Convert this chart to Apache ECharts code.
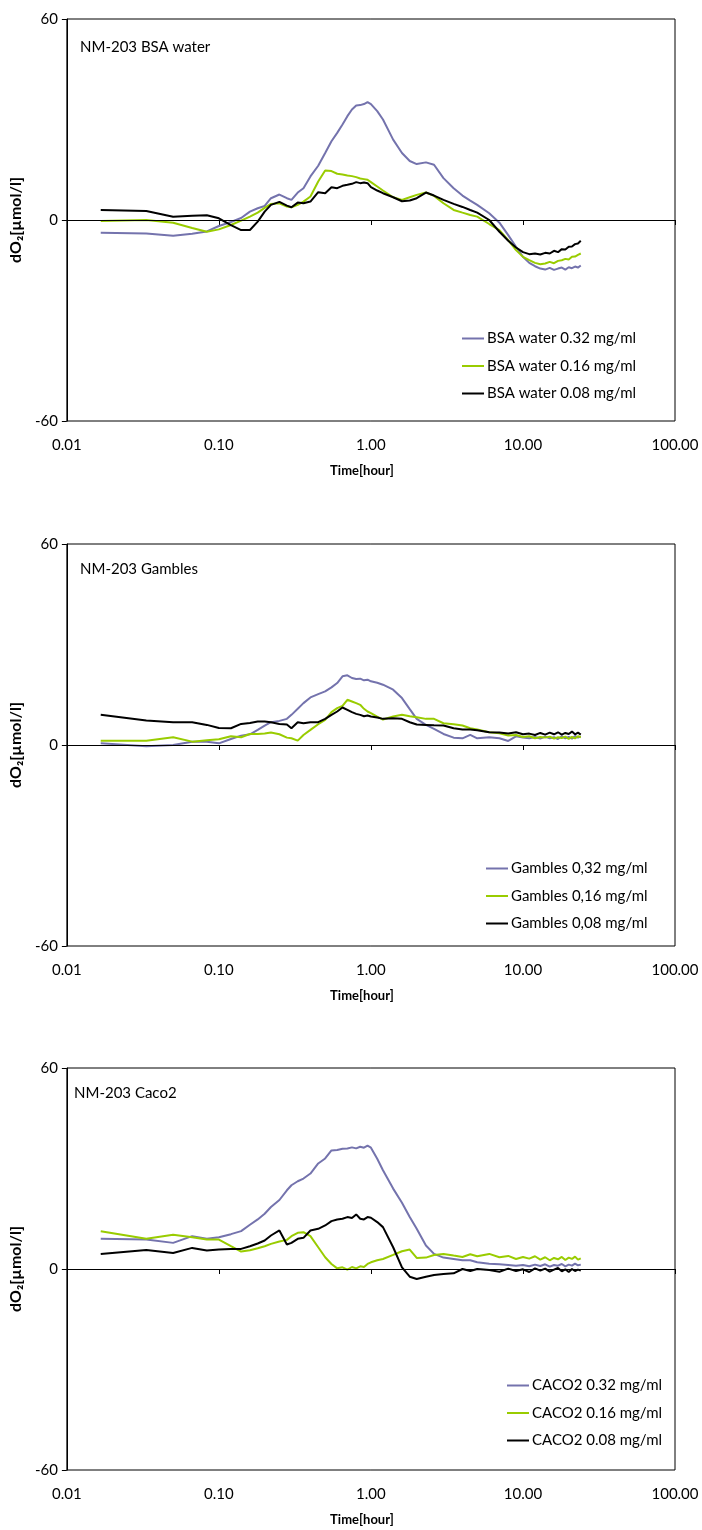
<!DOCTYPE html>
<html>
<head>
<meta charset="utf-8">
<script src="https://cdn.jsdelivr.net/npm/echarts@6/dist/echarts.min.js"></script>
<style>
  html, body { margin: 0; padding: 0; background: #fff; }
  #chart { width: 702px; height: 1530px; }
</style>
</head>
<body>
<div id="chart"></div>
<script>
// time in hours (shared by all series)
var times = [
    0.0167, 0.0333, 0.05, 0.0667, 0.0833, 0.1,
    0.12, 0.14, 0.16, 0.18, 0.2, 0.22,
    0.25, 0.28, 0.3, 0.33, 0.36, 0.4,
    0.45, 0.5, 0.55, 0.6, 0.65, 0.7,
    0.75, 0.8, 0.85, 0.9, 0.95, 1.0,
    1.1, 1.2, 1.4, 1.6, 1.8, 2.0,
    2.3, 2.6, 3.0, 3.5, 4, 4.5,
    5, 6, 7, 8, 9, 10,
    11, 12, 13, 14, 15, 16, 17, 18, 19, 20, 21, 22, 23, 24
];

var xTicks = [0.01, 0.1, 1, 10, 100];
var yTicks = [-60, 0, 60];

var panelTitles = ['NM-203 BSA water', 'NM-203 Gambles', 'NM-203 Caco2'];
var bsaNames = ['BSA water 0.32 mg/ml', 'BSA water 0.16 mg/ml', 'BSA water 0.08 mg/ml'];
var gamNames = ['Gambles 0,32 mg/ml', 'Gambles 0,16 mg/ml', 'Gambles 0,08 mg/ml'];
var cacoNames = ['CACO2 0.32 mg/ml', 'CACO2 0.16 mg/ml', 'CACO2 0.08 mg/ml'];

// panel 1: BSA water
var bsa032 = [
    -3.8, -4.0, -4.7, -4.1, -3.4, -1.8,
    -0.6, 0.6, 2.5, 3.5, 4.2, 6.5,
    7.6, 6.5, 6.0, 8.2, 9.5, 13,
    16.2, 20, 23.5, 26, 28.5, 31,
    33, 34.2, 34.3, 34.6, 35.2, 34.6,
    32.5, 30, 24, 20, 17.6, 16.7,
    17.2, 16.5, 12.5, 9.5, 7.3, 5.8,
    4.5, 2, -0.8, -4.5, -8, -11,
    -12.8, -13.8, -14.5, -14.8, -14.3, -14.9, -14.5, -14.2, -14.8, -14.1, -14.4, -13.9, -14.2, -13.6
];
var bsa016 = [
    -0.3, 0, -0.8, -2.4, -3.5, -2.8,
    -1.5, -0.2, 1, 2.2, 3.6, 4.8,
    5, 4, 3.8, 4.5, 5.5, 7,
    11.5, 14.8, 14.6, 13.8, 13.6, 13.3,
    13.1, 12.8, 12.4, 12.2, 12.0, 11.3,
    10, 8.8, 6.8, 6.0, 6.8, 7.5,
    8.2, 7.2, 5, 3, 2.2, 1.5,
    1.0, -1.2, -3, -6, -9, -11,
    -12, -12.8, -13.2, -13.0, -12.5, -12.9, -12.2, -12.0, -11.6, -11.8, -11.0, -10.9, -10.4, -10.0
];
var bsa008 = [
    3.0, 2.7, 1.0, 1.3, 1.4, 0.5,
    -1.5, -3.0, -3.0, -0.5, 2.5, 4.5,
    5.4, 4.3, 3.8, 5.2, 5.0, 5.5,
    8.3, 8.0, 9.8, 9.5, 10.2, 10.5,
    10.8, 11.3, 11.0, 11.2, 11.0, 9.8,
    8.8, 8.0, 6.8, 5.6, 5.8, 6.5,
    8.2, 7.3, 6.0, 4.8, 3.9, 3.0,
    2.2, 0.0, -3.5, -6.2, -8.2, -9.6,
    -10.2, -10.0, -10.3, -9.8, -10.0, -9.2, -9.6, -8.7, -8.8, -8.0, -7.9, -7.2, -7.0, -6.2
];

// panel 2: Gambles
var gam032 = [
    0.5, -0.4, 0, 1, 1, 0.5,
    1.8, 2.8, 3.2, 4.5, 5.8, 6.8,
    7.2, 7.8, 9, 10.8, 12.5, 14.2,
    15.2, 16.0, 17.2, 18.5, 20.5, 20.8,
    20.0, 19.7, 19.8, 19.3, 19.5, 19.0,
    18.6, 18.0, 16.5, 14.0, 10.7, 7.8,
    6.0, 4.8, 3.3, 2.2, 2.0, 3.0,
    2.0, 2.3, 2.0, 1.2, 2.6, 2.2,
    2.0, 2.4, 1.9, 2.5, 2.0, 2.3, 1.8, 2.6, 2.0, 2.4, 1.9, 2.7, 2.2, 2.5
];
var gam016 = [
    1.3, 1.3, 2.3, 1.0, 1.4, 1.7,
    2.6, 2.3, 3.3, 3.3, 3.4, 3.7,
    3.2, 2.2, 2.0, 1.3, 3.0, 4.5,
    6.2, 7.5, 9.8, 11.0, 11.7, 13.5,
    13.0, 12.5, 12.0, 10.8, 10.0, 9.5,
    8.5, 7.6, 8.5, 9.0, 8.6, 8.3,
    7.8, 7.8, 6.5, 6.2, 5.8, 5.0,
    4.6, 3.8, 3.5, 2.8, 3.0, 2.4,
    2.6, 2.0, 2.4, 2.2, 2.5, 1.9, 2.3, 2.1, 2.5, 1.8, 2.4, 2.0, 2.6, 2.3
];
var gam008 = [
    9.0, 7.3, 6.8, 6.8, 6.0, 5.1,
    5.0, 6.3, 6.6, 7.0, 7.0, 6.8,
    6.3, 6.1, 5.0, 6.8, 6.5, 6.8,
    6.8, 7.8, 9.0, 10.0, 11.2, 10.5,
    9.8, 9.3, 9.0, 8.6, 8.8, 8.5,
    8.2, 7.8, 8.0, 7.8, 6.8, 6.1,
    6.0, 5.9, 5.8, 5.0, 4.6, 4.6,
    4.4, 3.8, 3.7, 3.4, 3.8, 3.2,
    3.4, 3.0, 3.6, 3.1, 3.7, 3.2, 3.8, 3.1, 3.6, 3.3, 4.0, 3.2, 3.7, 3.1
];

// panel 3: Caco2
var caco032 = [
    9.0, 8.8, 7.8, 9.8, 9.0, 9.5,
    10.4, 11.3, 13.2, 14.8, 16.5, 18.5,
    20.6, 23.5, 25.0, 26.2, 27.0, 28.5,
    31.5, 33.0, 35.4, 35.5, 35.9, 36.0,
    36.3, 36.0, 36.5, 36.2, 36.8, 36.2,
    32.9, 29.5, 24.0, 19.8, 15.5, 12.0,
    7.0, 4.5, 3.4, 3.0, 2.6, 2.6,
    2.0, 1.6, 1.4, 1.2, 1.0, 1.2,
    0.8, 1.3, 0.9, 1.4, 0.7, 1.2, 1.0, 1.5, 0.8, 1.3, 1.0, 1.6, 1.1, 1.3
];
var caco016 = [
    11.3, 9.0, 10.2, 9.5, 8.8, 8.8,
    6.8, 5.2, 5.6, 6.2, 6.8, 7.5,
    8.2, 8.7, 9.8, 10.8, 11.0, 9.8,
    6.5, 3.5, 1.5, 0.2, 0.5, -0.2,
    0.6, 0.2, 0.8, 0.6, 1.5, 2.0,
    2.6, 3.0, 4.2, 5.3, 5.8, 3.3,
    3.4, 4.2, 4.5, 4.0, 3.6, 4.4,
    3.8, 4.5, 3.5, 3.9, 3.0, 3.6,
    3.1, 3.8, 2.8, 3.5, 2.6, 3.3, 2.9, 3.6, 2.7, 3.4, 3.0, 3.7, 2.8, 3.2
];
var caco008 = [
    4.5, 5.7, 4.8, 6.3, 5.5, 5.8,
    6.0, 6.0, 6.8, 7.6, 8.5, 10.0,
    11.5, 7.3, 7.8, 9.0, 9.3, 11.5,
    12.0, 13.0, 14.3, 14.8, 15.0, 15.5,
    15.2, 16.3, 15.0, 14.8, 15.5, 15.3,
    14.0, 12.5, 6.5, 0.5, -2.3, -3.0,
    -2.3, -1.8, -1.5, -1.3, 0, -0.6,
    0, -0.3, -0.8, 0.1, -0.6, -0.1,
    -0.9, 0.2, -0.5, 0.1, -0.8, -0.2, 0.3, -0.7, -0.1, -0.9, 0.0, -0.6, -0.2, -0.5
];

var colors = ['#7473ad', '#99cc00', '#000000'];
var font = 'Lato, "Open Sans", sans-serif';

var gridTops = [19, 544, 1068];
var gridH = 402;
var legendLeft = [462, 486, 507];
var legendTop = [331, 861, 1378];
var titlePos = [[80, 40], [80, 562], [74, 1086]];

var panels = [
    { names: bsaNames, values: [bsa032, bsa016, bsa008] },
    { names: gamNames, values: [gam032, gam016, gam008] },
    { names: cacoNames, values: [caco032, caco016, caco008] }
];

var grids = [], xAxes = [], yAxes = [], series = [], legends = [], titles = [];

panels.forEach(function (p, k) {
    grids.push({
        left: 64, width: 611, top: gridTops[k], height: gridH,
        show: true, borderColor: '#000', borderWidth: 1
    });
    xAxes.push({
        type: 'log', logBase: 10, gridIndex: k,
        min: xTicks[0], max: xTicks[xTicks.length - 1],
        name: 'Time[hour]', nameLocation: 'middle', nameGap: 43,
        nameTextStyle: { fontFamily: font, fontSize: 13, fontWeight: 'bold', color: '#000', padding: [0, 18, 0, 0] },
        axisLine: { lineStyle: { color: '#000', width: 1 } },
        axisTick: { show: true, length: 5, lineStyle: { color: '#000' } },
        minorTick: { show: false },
        splitLine: { show: false },
        axisLabel: {
            margin: 17, fontFamily: font, fontSize: 15, color: '#000',
            formatter: function (v) { return v.toFixed(2); }
        }
    });
    yAxes.push({
        type: 'value', gridIndex: k,
        min: yTicks[0], max: yTicks[2], interval: 60,
        name: 'dO\u2082[\u00b5mol/l]', nameLocation: 'middle', nameGap: 36,
        nameTextStyle: { fontFamily: font, fontSize: 16, fontWeight: 'bold', color: '#000' },
        axisLine: { show: true, lineStyle: { color: '#000', width: 1 } },
        axisTick: { show: true, length: 5, lineStyle: { color: '#000' } },
        splitLine: { show: false },
        axisLabel: { margin: 9, fontFamily: font, fontSize: 15, color: '#000' }
    });
    p.values.forEach(function (vals, j) {
        var s = {
            name: p.names[j],
            type: 'line',
            xAxisIndex: k, yAxisIndex: k,
            showSymbol: false, symbol: 'none',
            animation: false,
            lineStyle: { color: colors[j], width: 2 },
            itemStyle: { color: colors[j] },
            data: times.map(function (t, i) { return [t, vals[i]]; })
        };
        if (j === 0) {
            s.markLine = {
                silent: true, symbol: 'none', animation: false,
                label: { show: false },
                lineStyle: { color: '#000', width: 1, type: 'solid' },
                data: [{ yAxis: 0 }]
            };
        }
        series.push(s);
    });
    legends.push({
        orient: 'vertical',
        left: legendLeft[k], top: legendTop[k],
        padding: 0,
        icon: 'rect',
        itemWidth: 22, itemHeight: 2, itemGap: 12.5,
        data: p.names,
        textStyle: { fontFamily: font, fontSize: 15, color: '#000', padding: [0, 0, 0, -2] }
    });
    titles.push({
        text: panelTitles[k],
        left: titlePos[k][0], top: titlePos[k][1],
        padding: 0,
        textStyle: { fontFamily: font, fontSize: 15, fontWeight: 'normal', color: '#000' }
    });
});

echarts.init(document.querySelector('#chart')).setOption({
    animation: false,
    title: titles,
    legend: legends,
    grid: grids,
    xAxis: xAxes,
    yAxis: yAxes,
    series: series
});
</script>
</body>
</html>
